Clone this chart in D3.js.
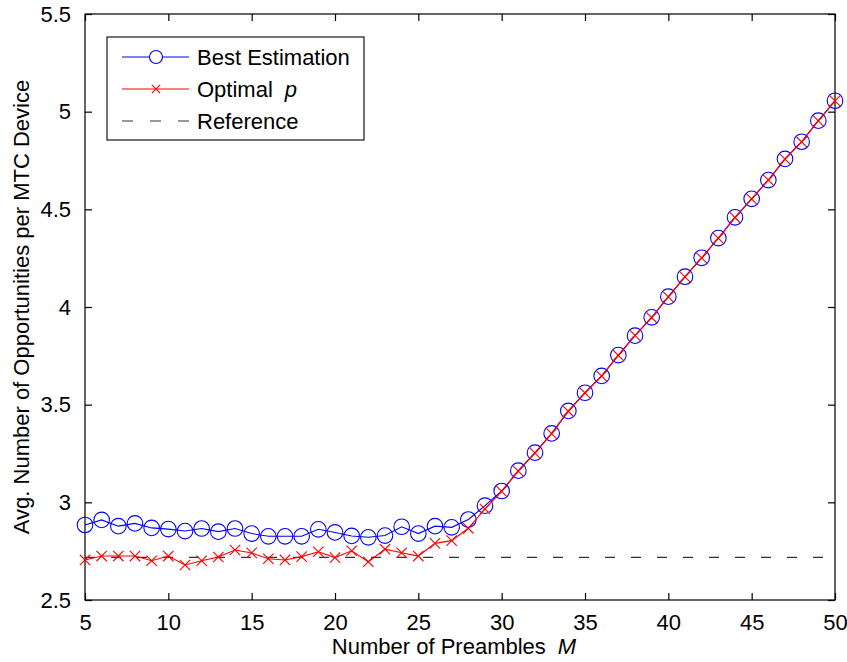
<!DOCTYPE html>
<html>
<head>
<meta charset="utf-8">
<script src="https://cdn.jsdelivr.net/npm/d3@7"></script>
<style>
  html, body { margin: 0; padding: 0; background: #fff; }
  svg { display: block; }
  text { font-family: "Liberation Sans", Arial, Helvetica, sans-serif; fill: #000; }
</style>
</head>
<body>
<svg id="chart" width="847" height="662"></svg>
<script>
// Number of preambles M
const preambles = d3.range(5, 51);

// Best Estimation series
const bestEstimation = [
  2.884, 2.910, 2.878, 2.892, 2.869, 2.863, 2.853, 2.866, 2.850, 2.866,
  2.840, 2.826, 2.826, 2.826, 2.862, 2.846, 2.828, 2.821, 2.830, 2.875,
  2.840, 2.878, 2.872, 2.912, 2.983, 3.058, 3.162, 3.254, 3.353, 3.468,
  3.561, 3.647, 3.754, 3.853, 3.947, 4.053, 4.155, 4.252, 4.353, 4.459,
  4.554, 4.650, 4.758, 4.846, 4.954, 5.056
];

// Optimal p series
const optimalP = [
  2.705, 2.725, 2.725, 2.725, 2.701, 2.725, 2.679, 2.701, 2.720, 2.756,
  2.741, 2.711, 2.705, 2.722, 2.747, 2.717, 2.752, 2.696, 2.760, 2.742,
  2.725, 2.790, 2.804, 2.867, 2.966, 3.056, 3.160, 3.252, 3.352, 3.466,
  3.560, 3.646, 3.752, 3.855, 3.946, 4.052, 4.154, 4.251, 4.352, 4.458,
  4.553, 4.650, 4.757, 4.845, 4.953, 5.055
];

// Reference level (e)
const referenceValue = 2.718;

const xTicks = [5, 10, 15, 20, 25, 30, 35, 40, 45, 50];
const yTicks = [2.5, 3, 3.5, 4, 4.5, 5, 5.5];
const yTickLabels = ["2.5", "3", "3.5", "4", "4.5", "5", "5.5"];

const legendItems = [
  { name: "Best Estimation", kind: "circle" },
  { name: "Optimal", italic: "p", kind: "cross" },
  { name: "Reference", kind: "dash" }
];

const margin = { left: 85, top: 14, right: 12, bottom: 62 };
const W = 847, H = 662;
const pw = W - margin.left - margin.right;   // 750
const ph = H - margin.top - margin.bottom;   // 586

const svg = d3.select("#chart");
const g = svg.append("g").attr("transform", `translate(${margin.left},${margin.top})`);

const x = d3.scaleLinear().domain([5, 50]).range([0, pw]);
const y = d3.scaleLinear().domain([2.5, 5.5]).range([ph, 0]);

const FONT = 22;
const tickLen = 7;

// Box
g.append("rect").attr("x", 0).attr("y", 0).attr("width", pw).attr("height", ph)
  .attr("fill", "none").attr("stroke", "#000").attr("stroke-width", 1.2);

// Axes with inward ticks
const xAxisB = d3.axisBottom(x).tickValues(xTicks).tickSizeInner(-tickLen).tickSizeOuter(0).tickPadding(14);
const xAxisT = d3.axisTop(x).tickValues(xTicks).tickSizeInner(-tickLen).tickSizeOuter(0).tickFormat("");
const yAxisL = d3.axisLeft(y).tickValues(yTicks).tickSizeInner(-tickLen).tickSizeOuter(0).tickPadding(14)
  .tickFormat((d, i) => yTickLabels[i]);
const yAxisR = d3.axisRight(y).tickValues(yTicks).tickSizeInner(-tickLen).tickSizeOuter(0).tickFormat("");

function styleAxis(sel) {
  sel.select(".domain").remove();
  sel.selectAll(".tick line").attr("stroke", "#000").attr("stroke-width", 1.2);
  sel.selectAll(".tick text").attr("font-size", FONT).attr("fill", "#000")
    .style("font-family", '"Liberation Sans", Arial, sans-serif');
}

g.append("g").attr("transform", `translate(0,${ph})`).call(xAxisB).call(styleAxis);
g.append("g").call(xAxisT).call(styleAxis);
g.append("g").call(yAxisL).call(styleAxis);
g.append("g").attr("transform", `translate(${pw},0)`).call(yAxisR).call(styleAxis);

// Axis titles
const xt = svg.append("text")
  .attr("x", margin.left + pw / 2 - 6).attr("y", 654)
  .attr("text-anchor", "middle").attr("font-size", FONT);
xt.append("tspan").text("Number of Preambles");
xt.append("tspan").attr("dx", 12).attr("font-style", "italic").text("M");

svg.append("text")
  .attr("transform", `translate(29,${margin.top + ph / 2}) rotate(-90)`)
  .attr("text-anchor", "middle").attr("font-size", FONT)
  .text("Avg. Number of Opportunities per MTC Device");

// Series
const blueData = preambles.map((m, i) => [m, bestEstimation[i]]);
const redData = preambles.map((m, i) => [m, optimalP[i]]);
const line = d3.line().x(d => x(d[0])).y(d => y(d[1]));

// Reference dashed line
g.append("line")
  .attr("x1", x(5)).attr("x2", x(50))
  .attr("y1", y(referenceValue)).attr("y2", y(referenceValue))
  .attr("stroke", "#333").attr("stroke-width", 1.1).attr("stroke-dasharray", "10,16");

g.append("path").datum(blueData).attr("d", line)
  .attr("fill", "none").attr("stroke", "#0000ff").attr("stroke-width", 1.1);
g.selectAll("circle.best").data(blueData).enter().append("circle")
  .attr("class", "best")
  .attr("cx", d => x(d[0])).attr("cy", d => y(d[1])).attr("r", 7.8)
  .attr("fill", "none").attr("stroke", "#0000ff").attr("stroke-width", 1.1);

g.append("path").datum(redData).attr("d", line)
  .attr("fill", "none").attr("stroke", "#ff0000").attr("stroke-width", 1.1);

function crossPath(cx, cy, s) {
  return `M${cx - s},${cy - s}L${cx + s},${cy + s}M${cx - s},${cy + s}L${cx + s},${cy - s}`;
}
g.selectAll("path.opt").data(redData).enter().append("path")
  .attr("class", "opt")
  .attr("d", d => crossPath(x(d[0]), y(d[1]), 5.2))
  .attr("fill", "none").attr("stroke", "#ff0000").attr("stroke-width", 1.1);

// Legend
const lg = svg.append("g");
lg.append("rect").attr("x", 107).attr("y", 37).attr("width", 257).attr("height", 103)
  .attr("fill", "#fff").attr("stroke", "#000").attr("stroke-width", 1.1);

const rowY = [57, 89, 121];
legendItems.forEach((item, i) => {
  const cy = rowY[i];
  if (item.kind === "circle") {
    lg.append("line").attr("x1", 122).attr("x2", 189).attr("y1", cy).attr("y2", cy)
      .attr("stroke", "#0000ff").attr("stroke-width", 1.1);
    lg.append("circle").attr("cx", 156).attr("cy", cy).attr("r", 6.5)
      .attr("fill", "#fff").attr("stroke", "#0000ff").attr("stroke-width", 1.1);
  } else if (item.kind === "cross") {
    lg.append("line").attr("x1", 122).attr("x2", 189).attr("y1", cy).attr("y2", cy)
      .attr("stroke", "#ff0000").attr("stroke-width", 1.1);
    lg.append("path").attr("d", crossPath(156, cy, 4.2))
      .attr("fill", "none").attr("stroke", "#ff0000").attr("stroke-width", 1.1);
  } else {
    lg.append("line").attr("x1", 122).attr("x2", 189).attr("y1", cy).attr("y2", cy)
      .attr("stroke", "#333").attr("stroke-width", 1.1).attr("stroke-dasharray", "11,17");
  }
  const t = lg.append("text").attr("x", 197).attr("y", cy + 8).attr("font-size", FONT);
  t.append("tspan").text(item.name);
  if (item.italic) t.append("tspan").attr("dx", 12).attr("font-style", "italic").text(item.italic);
});
</script>
</body>
</html>
